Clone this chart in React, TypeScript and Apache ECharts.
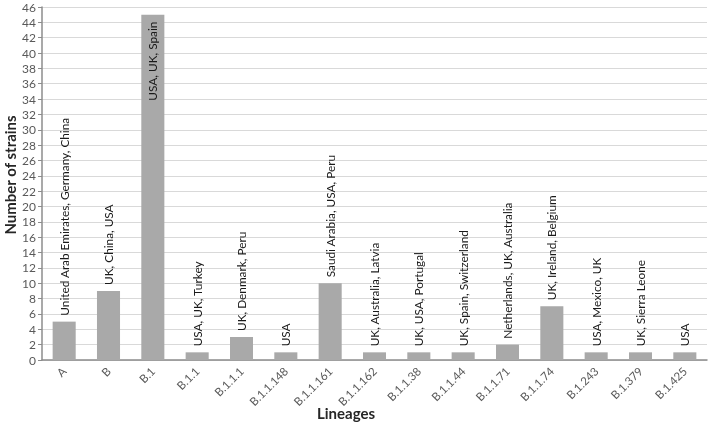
import React, { useEffect, useRef } from "react";
import * as echarts from "echarts";

const lineages = ["A", "B", "B.1", "B.1.1", "B.1.1.1", "B.1.1.148", "B.1.1.161", "B.1.1.162", "B.1.1.38", "B.1.1.44", "B.1.1.71", "B.1.1.74", "B.1.243", "B.1.379", "B.1.425"];
const strains = [5, 9, 45, 1, 3, 1, 10, 1, 1, 1, 2, 7, 1, 1, 1];
const countries = [
  "United Arab Emirates, Germany, China",
  "UK, China, USA",
  "USA, UK, Spain",
  "USA, UK, Turkey",
  "UK, Denmark, Peru",
  "USA",
  "Saudi Arabia, USA, Peru",
  "UK, Australia, Latvia",
  "UK, USA, Portugal",
  "UK, Spain, Switzerland",
  "Netherlands, UK, Australia",
  "UK, Ireland, Belgium",
  "USA, Mexico, UK",
  "UK, Sierra Leone",
  "USA",
];

const FONT = "Lato, 'Open Sans', sans-serif";

export default function App() {
  const ref = useRef<HTMLDivElement>(null);
  useEffect(() => {
    const chart = echarts.init(ref.current!, null, { renderer: "svg" });
    const data = strains.map((v) => {
      const inside = v > 40;
      return {
        value: v,
        label: inside
          ? { position: "insideTop", align: "right", distance: 7 }
          : { position: "top", align: "left", distance: 6 },
      };
    });
    chart.setOption({
      animation: false,
      grid: { left: 42, right: 2, top: 7, bottom: 66, containLabel: false },
      xAxis: {
        type: "category",
        data: lineages,
        axisLine: { lineStyle: { color: "#8c8c8c", width: 1.5 } },
        axisTick: { show: false },
        axisLabel: { rotate: 45, color: "#595959", fontSize: 11.5, fontFamily: FONT, margin: 9 },
      },
      yAxis: {
        type: "value",
        min: 0,
        max: 46,
        interval: 2,
        axisLine: { show: true, lineStyle: { color: "#8c8c8c", width: 1.5 } },
        axisTick: { show: true, length: 4, lineStyle: { color: "#8c8c8c" } },
        axisLabel: { color: "#595959", fontSize: 12, fontFamily: FONT, margin: 6 },
        splitLine: { lineStyle: { color: "#d9d9d9", width: 1 } },
      },
      series: [
        {
          type: "bar",
          data,
          barWidth: "52%",
          itemStyle: { color: "#a9a9a9" },
          label: {
            show: true,
            rotate: 90,
            verticalAlign: "middle",
            color: "#1a1a1a",
            fontSize: 11.8,
            fontFamily: FONT,
            formatter: (p: any) => countries[p.dataIndex],
          },
        },
      ],
      graphic: [
        {
          type: "text",
          x: 10,
          y: 175,
          rotation: Math.PI / 2,
          style: {
            text: "Number of strains",
            fontSize: 15,
            fontWeight: "bold",
            fontFamily: FONT,
            fill: "#262626",
            x: 0,
            y: 0,
            align: "center",
            verticalAlign: "middle",
          },
        },
        {
          type: "text",
          x: 346,
          y: 413,
          style: {
            text: "Lineages",
            fontSize: 15,
            fontWeight: "bold",
            fontFamily: FONT,
            fill: "#262626",
            x: 0,
            y: 0,
            align: "center",
            verticalAlign: "middle",
          },
        },
      ],
    });
    return () => chart.dispose();
  }, []);
  return <div ref={ref} style={{ position: "fixed", left: 0, top: 0, width: 709, height: 426 }} />;
}
